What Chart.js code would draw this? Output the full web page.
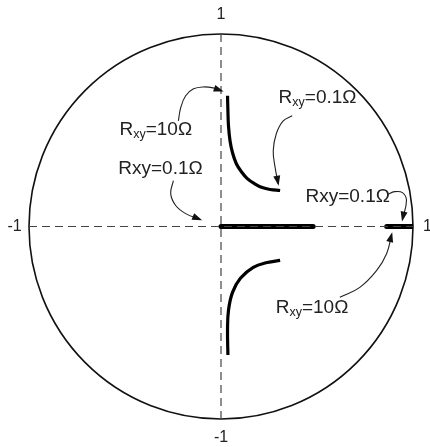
<!DOCTYPE html>
<html>
<head>
<meta charset="utf-8">
<script src="https://cdn.jsdelivr.net/npm/chart.js@4.4.0/dist/chart.umd.min.js"></script>
<style>
  body { margin: 0; background: #fff; }
</style>
</head>
<body>
<canvas id="grafico" width="430" height="447"></canvas>
<script>
// puntos (coordenadas normalizadas, circulo unidad)
let arcoSuperior = [
  [0.034, 0.679], [0.036, 0.601], [0.039, 0.523], [0.047, 0.446], [0.060, 0.383],
  [0.080, 0.326], [0.106, 0.285], [0.137, 0.249], [0.174, 0.223], [0.215, 0.202],
  [0.256, 0.192], [0.308, 0.187]
];
let arcoInferior = [
  [0.308, -0.176], [0.241, -0.187], [0.168, -0.212], [0.101, -0.269], [0.060, -0.342],
  [0.039, -0.435], [0.034, -0.539], [0.036, -0.668]
];
let tramoCentro = [[0, 0], [0.48, 0]];
let tramoBorde = [[0.863, 0], [0.996, 0]];

let ejeX = [[-1, 0], [1, 0]];
let ejeY = [[0, -1], [0, 1]];

// flechas de las etiquetas
let flecha1 = [[-0.222, 0.549], [-0.210, 0.617], [-0.184, 0.679], [-0.143, 0.715], [-0.092, 0.725], [-0.041, 0.720], [0.004, 0.705]];
let flecha2 = [[0.371, 0.575], [0.324, 0.549], [0.288, 0.482], [0.272, 0.394], [0.282, 0.306], [0.298, 0.222]];
let flecha3 = [[-0.248, 0.238], [-0.262, 0.171], [-0.236, 0.109], [-0.184, 0.067], [-0.108, 0.036]];
let flecha4 = [[0.868, 0.166], [0.904, 0.181], [0.945, 0.176], [0.966, 0.135], [0.945, 0.036]];
let flecha5 = [[0.619, -0.368], [0.723, -0.316], [0.811, -0.228], [0.863, -0.140], [0.889, -0.040]];

// etiquetas: [base, subindice, resto, x, y]
let etiquetas = [
  ["R", "xy", "=10\u03A9", -0.529, 0.477],
  ["R", "xy", "=0.1\u03A9", 0.300, 0.643],
  ["Rxy=0.1\u03A9", "", "", -0.535, 0.275],
  ["Rxy=0.1\u03A9", "", "", 0.440, 0.125],
  ["R", "xy", "=10\u03A9", 0.285, -0.451]
];
let ticksEje = [["1", 0, 1.10], ["-1", 0, -1.095], ["-1", -1.075, 0], ["1", 1.075, 0]];

function puntos(arr) {
  return arr.map(p => ({ x: p[0], y: p[1] }));
}

function linea(arr, ancho, extra) {
  return Object.assign({
    data: puntos(arr),
    showLine: true,
    borderColor: "#000",
    borderWidth: ancho,
    pointRadius: 0,
    fill: false,
    tension: 0
  }, extra || {});
}

const fuente = "Liberation Sans, Arial, sans-serif";

const pluginDibujo = {
  id: "dibujo",
  beforeDatasetsDraw(chart) {
    const ctx = chart.ctx;
    const sx = chart.scales.x, sy = chart.scales.y;
    const cx = sx.getPixelForValue(0), cy = sy.getPixelForValue(0);
    const rx = sx.getPixelForValue(1) - cx, ry = cy - sy.getPixelForValue(1);
    ctx.save();
    ctx.beginPath();
    ctx.ellipse(cx, cy, rx, ry, 0, 0, Math.PI * 2);
    ctx.strokeStyle = "#111";
    ctx.lineWidth = 1.6;
    ctx.stroke();
    ctx.restore();
  },
  afterDatasetsDraw(chart) {
    const ctx = chart.ctx;
    const sx = chart.scales.x, sy = chart.scales.y;
    ctx.save();
    // puntas de flecha
    chart.data.datasets.forEach(ds => {
      if (!ds.flecha) return;
      const n = ds.data.length;
      const a = ds.data[n - 2], b = ds.data[n - 1];
      const x1 = sx.getPixelForValue(a.x), y1 = sy.getPixelForValue(a.y);
      const x2 = sx.getPixelForValue(b.x), y2 = sy.getPixelForValue(b.y);
      const ang = Math.atan2(y2 - y1, x2 - x1);
      ctx.save();
      ctx.translate(x2, y2);
      ctx.rotate(ang);
      ctx.beginPath();
      ctx.moveTo(2, 0);
      ctx.lineTo(-8, -3.5);
      ctx.lineTo(-8, 3.5);
      ctx.closePath();
      ctx.fillStyle = "#111";
      ctx.fill();
      ctx.restore();
    });
    // etiquetas
    ctx.fillStyle = "#222";
    ctx.textBaseline = "alphabetic";
    ctx.textAlign = "left";
    etiquetas.forEach(e => {
      let x = sx.getPixelForValue(e[3]);
      const y = sy.getPixelForValue(e[4]);
      ctx.font = "19px " + fuente;
      ctx.fillText(e[0], x, y);
      x += ctx.measureText(e[0]).width;
      if (e[1]) {
        ctx.font = "12.5px " + fuente;
        ctx.fillText(e[1], x, y + 3);
        x += ctx.measureText(e[1]).width;
      }
      if (e[2]) {
        ctx.font = "19px " + fuente;
        ctx.fillText(e[2], x, y);
      }
    });
    // marcas de los ejes
    ctx.font = "16px " + fuente;
    ctx.textAlign = "center";
    ctx.textBaseline = "middle";
    ctx.fillStyle = "#222";
    ticksEje.forEach(t => {
      ctx.fillText(t[0], sx.getPixelForValue(t[1]), sy.getPixelForValue(t[2]));
    });
    ctx.restore();
  }
};

const ejes = { borderColor: "#444", borderWidth: 1.2, borderDash: [8, 5] };

new Chart(document.getElementById("grafico"), {
  type: "scatter",
  data: {
    datasets: [
      linea(ejeX, 1.2, ejes),
      linea(ejeY, 1.2, ejes),
      linea(arcoSuperior, 3.2, { tension: 0.4 }),
      linea(arcoInferior, 3.2, { tension: 0.4 }),
      linea(tramoCentro, 5, { borderCapStyle: "round" }),
      linea(tramoBorde, 5, { borderCapStyle: "round" }),
      linea(flecha1, 1.1, { tension: 0.4, flecha: true, borderColor: "#222" }),
      linea(flecha2, 1.1, { tension: 0.4, flecha: true, borderColor: "#222" }),
      linea(flecha3, 1.1, { tension: 0.4, flecha: true, borderColor: "#222" }),
      linea(flecha4, 1.1, { tension: 0.4, flecha: true, borderColor: "#222" }),
      linea(flecha5, 1.1, { tension: 0.4, flecha: true, borderColor: "#222" })
    ]
  },
  options: {
    responsive: false,
    animation: false,
    layout: { padding: { left: 29, right: 17, top: 34, bottom: 28 } },
    scales: {
      x: { type: "linear", min: -1, max: 1, display: false },
      y: { type: "linear", min: -1, max: 1, display: false }
    },
    plugins: {
      legend: { display: false },
      tooltip: { enabled: false }
    }
  },
  plugins: [pluginDibujo]
});
</script>
</body>
</html>
